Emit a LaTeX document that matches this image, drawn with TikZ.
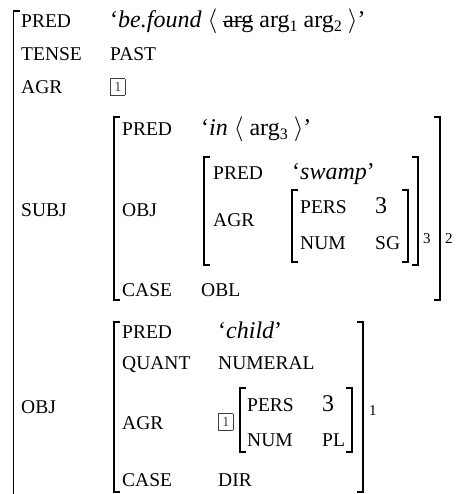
\documentclass[tikz,border=0pt]{standalone}
\usepackage{fontspec}
\setmainfont{Liberation Serif}
% type sizes: attribute names (caps), ordinary text, bracket indices
\newcommand\fsc{\fontsize{19.5}{22}\selectfont}
\newcommand\fnorm{\fontsize{24}{27}\selectfont}
\newcommand\fsub{\fontsize{15}{17}\selectfont}
\newcommand\argsub[1]{arg\raisebox{-4pt}{\fontsize{16}{18}\selectfont #1}}
\newcommand\struckarg{\setbox0\hbox{arg}\rlap{\raisebox{5.5pt}{\rule{\wd0}{1pt}}}\box0}
\newcommand\tagbox[1]{{\setlength\fboxsep{3.4pt}\setlength\fboxrule{0.7pt}\fbox{\fontsize{14}{14}\selectfont #1}}}
% square brackets of an attribute-value matrix: x, top, bottom
\newcommand\lbrk[3]{\draw[brk] (#1+6,#2) -- (#1,#2) -- (#1,#3) -- (#1+6,#3);}
\newcommand\rbrk[3]{\draw[brk] (#1-6,#2) -- (#1,#2) -- (#1,#3) -- (#1-6,#3);}
\tikzset{
  feat/.style={anchor=base west, inner sep=0pt, font=\fsc},
  val/.style={anchor=base west, inner sep=0pt, font=\fnorm},
  tagv/.style={anchor=west, inner sep=0pt, text=black!75},
  idx/.style={anchor=base west, inner sep=0pt, font=\fsub},
  brk/.style={line width=1.6pt}
}
\begin{document}
\begin{tikzpicture}[x=1pt,y=-1pt]
\useasboundingbox (0,0) rectangle (457,494);

% outermost structure
\draw[brk] (20,11) -- (13.5,11) -- (13.5,494);
\node[feat] (pred) at (21,28) {PRED};
\node[val] (predv) at (110,28) {`\textit{be.found} $\langle$ \struckarg\ \argsub1\ \argsub2 $\rangle$'};
\node[feat] (tense) at (21,61) {TENSE};
\node[feat] (tensev) at (110,61) {PAST};
\node[feat] (agr) at (21,94) {AGR};
\node[tagv] (agrv) at (110,87) {\tagbox{1}};

% SUBJ
\node[feat] (subj) at (21,216) {SUBJ};
\lbrk{114}{117}{300}
\rbrk{440}{117}{300}
\node[idx] (subjidx) at (445,243) {2};
\node[feat] (spred) at (122,136) {PRED};
\node[val] (spredv) at (201,136) {`\textit{in} $\langle$ \argsub3 $\rangle$'};
\node[feat] (sobj) at (122,216) {OBJ};
\lbrk{204}{157}{265}
\rbrk{418}{157}{265}
\node[idx] (sobjidx) at (423,243) {3};
\node[feat] (sopred) at (213,179) {PRED};
\node[val] (sopredv) at (292,179) {`\textit{swamp}'};
\node[feat] (soagr) at (213,226) {AGR};
\lbrk{292}{190}{262}
\rbrk{408}{190}{262}
\node[feat] (sopers) at (300,213) {PERS};
\node[val] (sopersv) at (375,213) {3};
\node[feat] (sonum) at (300,249) {NUM};
\node[feat] (sonumv) at (375,249) {SG};
\node[feat] (scase) at (122,296) {CASE};
\node[feat] (scasev) at (201,296) {OBL};

% OBJ
\node[feat] (obj) at (21,413) {OBJ};
\lbrk{114}{322}{492}
\rbrk{363}{322}{492}
\node[idx] (objidx) at (369,415) {1};
\node[feat] (opred) at (122,338) {PRED};
\node[val] (opredv) at (218,338) {`\textit{child}'};
\node[feat] (oquant) at (122,369) {QUANT};
\node[feat] (oquantv) at (218,369) {NUMERAL};
\node[feat] (oagr) at (122,429) {AGR};
\node[tagv] (oagrtag) at (218,422) {\tagbox{1}};
\lbrk{240}{388}{452}
\rbrk{352}{388}{452}
\node[feat] (opers) at (247,411) {PERS};
\node[val] (opersv) at (322,411) {3};
\node[feat] (onum) at (247,446) {NUM};
\node[feat] (onumv) at (322,446) {PL};
\node[feat] (ocase) at (122,486) {CASE};
\node[feat] (ocasev) at (218,486) {DIR};
\end{tikzpicture}
\end{document}
